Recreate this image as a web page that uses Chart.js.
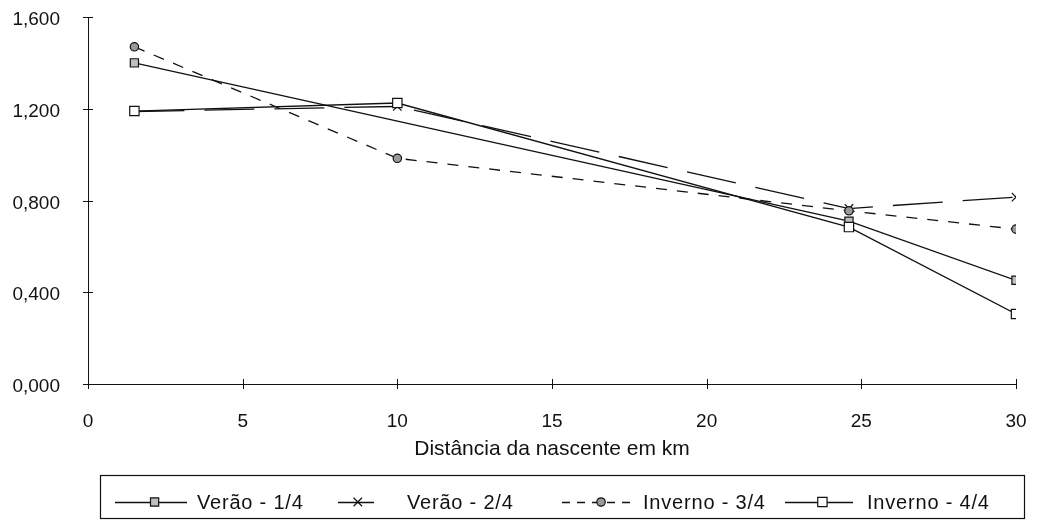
<!DOCTYPE html>
<html>
<head>
<meta charset="utf-8">
<script src="https://cdn.jsdelivr.net/npm/chart.js@4.4.1/dist/chart.umd.min.js"></script>
<style>
  html, body { margin: 0; padding: 0; background: #fff; }
  #wrap { width: 1039px; height: 529px; position: relative; }
</style>
</head>
<body>
<div id="wrap"><canvas id="c" width="1039" height="529"></canvas></div>
<script>
// Series names
const seriesNames = ['Verão - 1/4', 'Verão - 2/4', 'Inverno - 3/4', 'Inverno - 4/4'];

// Distance from the source (km) and values for each campaign
const verao1Km  = [1.5, 24.6, 30];
const verao1Val = [1.400, 0.710, 0.452];

const verao2Km  = [1.5, 10, 24.6, 30];
const verao2Val = [1.188, 1.210, 0.765, 0.815];

const inverno3Km  = [1.5, 10, 24.6, 30];
const inverno3Val = [1.470, 0.984, 0.755, 0.675];

const inverno4Km  = [1.5, 10, 24.6, 30];
const inverno4Val = [1.190, 1.225, 0.684, 0.305];

// Axis ticks
const xTicks = [0, 5, 10, 15, 20, 25, 30];
const yTicks = [0, 0.4, 0.8, 1.2, 1.6];

const xTitle = 'Distância da nascente em km';

const FONT = '"Liberation Sans", Arial, Helvetica, sans-serif';
const INK = '#111';

function pts(xs, ys) { return xs.map((x, i) => ({ x: x, y: ys[i] })); }

// Later series are painted over earlier ones (lower "order" is drawn last)
const datasets = [
  {
    label: seriesNames[0], data: pts(verao1Km, verao1Val), order: 3,
    borderColor: INK, borderWidth: 1.3, borderDash: [],
    pointStyle: 'rect', pointRadius: 5.8, pointBackgroundColor: '#bdbdbd',
    pointBorderColor: INK, pointBorderWidth: 1.2
  },
  {
    label: seriesNames[1], data: pts(verao2Km, verao2Val), order: 2,
    borderColor: INK, borderWidth: 1.3, borderDash: [50, 20],
    pointStyle: 'crossRot', pointRadius: 6, pointBackgroundColor: INK,
    pointBorderColor: INK, pointBorderWidth: 1.2
  },
  {
    label: seriesNames[2], data: pts(inverno3Km, inverno3Val), order: 1,
    borderColor: INK, borderWidth: 1.3, borderDash: [11, 10],
    pointStyle: 'circle', pointRadius: 4.2, pointBackgroundColor: '#9a9a9a',
    pointBorderColor: INK, pointBorderWidth: 1.2
  },
  {
    label: seriesNames[3], data: pts(inverno4Km, inverno4Val), order: 0,
    borderColor: INK, borderWidth: 1.3, borderDash: [],
    pointStyle: 'rect', pointRadius: 6.6, pointBackgroundColor: '#fff',
    pointBorderColor: INK, pointBorderWidth: 1.2
  }
];

// Tick marks that straddle both axes
const crossTicks = {
  id: 'crossTicks',
  afterDraw(chart) {
    const { ctx, scales: { x, y } } = chart;
    ctx.save();
    ctx.strokeStyle = INK;
    ctx.lineWidth = 1;
    ctx.beginPath();
    xTicks.forEach(v => {
      const px = Math.round(x.getPixelForValue(v)) + 0.5;
      ctx.moveTo(px, y.bottom - 5);
      ctx.lineTo(px, y.bottom + 5);
    });
    yTicks.forEach(v => {
      const py = Math.round(y.getPixelForValue(v)) + 0.5;
      ctx.moveTo(x.left - 5, py);
      ctx.lineTo(x.left + 5, py);
    });
    ctx.stroke();
    ctx.restore();
  }
};

function drawMarker(ctx, ds, cx, cy) {
  ctx.save();
  ctx.lineWidth = ds.pointBorderWidth;
  ctx.strokeStyle = ds.pointBorderColor;
  ctx.fillStyle = ds.pointBackgroundColor;
  const r = ds.pointRadius;
  ctx.beginPath();
  if (ds.pointStyle === 'rect') {
    const s = r * Math.SQRT1_2;
    ctx.rect(cx - s, cy - s, 2 * s, 2 * s);
    ctx.fill(); ctx.stroke();
  } else if (ds.pointStyle === 'circle') {
    ctx.arc(cx, cy, r, 0, Math.PI * 2);
    ctx.fill(); ctx.stroke();
  } else if (ds.pointStyle === 'crossRot') {
    const s = r * Math.SQRT1_2;
    ctx.moveTo(cx - s, cy - s); ctx.lineTo(cx + s, cy + s);
    ctx.moveTo(cx - s, cy + s); ctx.lineTo(cx + s, cy - s);
    ctx.stroke();
  }
  ctx.restore();
}

// Boxed legend below the axis title: line sample + marker + label
const legendLayout = {
  box: { left: 100.5, top: 475.5, right: 1024.5, bottom: 518.5 },
  rowY: 502,
  sampleStart: [115, 338, 562, 785],
  sampleLen: [72, 36, 71, 68],
  textX: [197, 407, 643, 867],
  sampleDash: [[], [], [8, 7], []]
};

const boxLegend = {
  id: 'boxLegend',
  afterDraw(chart) {
    const { ctx } = chart;
    const L = legendLayout;
    ctx.save();
    ctx.strokeStyle = INK;
    ctx.lineWidth = 1.2;
    ctx.strokeRect(L.box.left, L.box.top, L.box.right - L.box.left, L.box.bottom - L.box.top);
    const cy = L.rowY;
    ctx.font = '20px ' + FONT;
    ctx.textBaseline = 'middle';
    ctx.fillStyle = INK;
    if ('letterSpacing' in ctx) ctx.letterSpacing = '0.8px';
    chart.data.datasets.forEach((ds, i) => {
      const x0 = L.sampleStart[i], len = L.sampleLen[i];
      ctx.save();
      ctx.strokeStyle = ds.borderColor;
      ctx.lineWidth = ds.borderWidth;
      ctx.setLineDash(L.sampleDash[i]);
      ctx.beginPath();
      ctx.moveTo(x0, cy + 0.5);
      ctx.lineTo(x0 + len, cy + 0.5);
      ctx.stroke();
      ctx.restore();
      drawMarker(ctx, ds, x0 + len * 0.55, cy);
      ctx.fillText(ds.label, L.textX[i], cy + 1);
    });
    ctx.restore();
  }
};

new Chart(document.getElementById('c'), {
  type: 'line',
  data: { datasets: datasets },
  plugins: [crossTicks, boxLegend],
  options: {
    responsive: false,
    animation: false,
    devicePixelRatio: 1,
    layout: { padding: { left: 0, right: 23, top: 17, bottom: 64 } },
    plugins: { legend: { display: false }, tooltip: { enabled: false } },
    elements: { line: { tension: 0, fill: false } },
    scales: {
      x: {
        type: 'linear', min: 0, max: 30,
        afterFit(s) { s.height = 81; s.paddingLeft = 0; s.paddingRight = 0; },
        afterBuildTicks(s) { s.ticks = xTicks.map(v => ({ value: v })); },
        grid: { display: false },
        border: { display: true, color: INK, width: 1 },
        ticks: { color: INK, font: { family: FONT, size: 19 }, padding: 18, maxRotation: 0,
                 callback: v => String(v) },
        title: { display: true, text: xTitle, color: INK,
                 font: { family: FONT, size: 21 }, padding: { top: 0, bottom: 3 } }
      },
      y: {
        type: 'linear', min: 0, max: 1.6,
        afterFit(s) { s.width = 88; s.paddingTop = 0; s.paddingBottom = 0; },
        afterBuildTicks(s) { s.ticks = yTicks.map(v => ({ value: v })); },
        grid: { display: false },
        border: { display: true, color: INK, width: 1 },
        ticks: { color: INK, font: { family: FONT, size: 19 }, padding: 20, labelOffset: 3,
                 callback: v => v.toFixed(3).replace('.', ',') }
      }
    }
  }
});
</script>
</body>
</html>
